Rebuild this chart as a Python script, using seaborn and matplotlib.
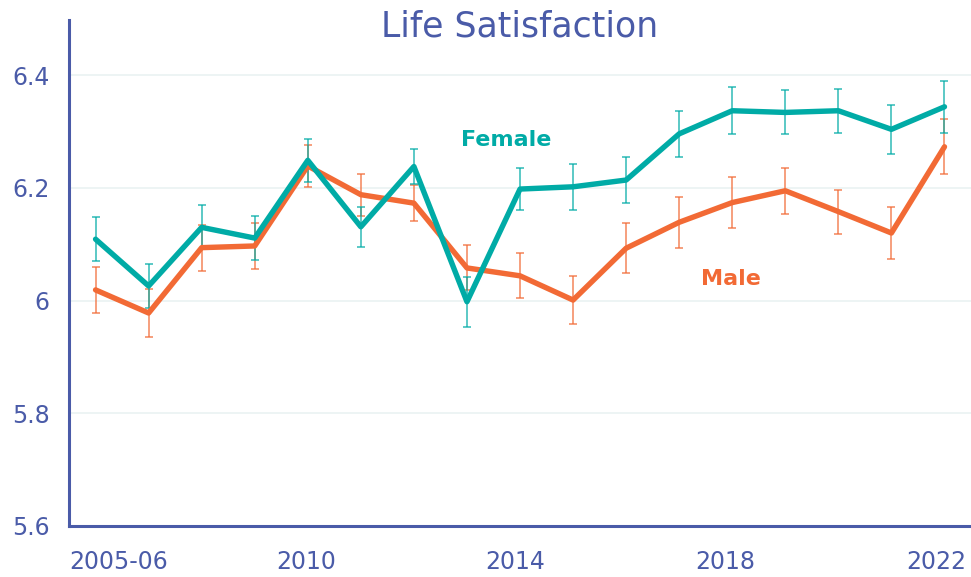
import matplotlib
matplotlib.use('Agg')
import matplotlib.pyplot as plt
import pandas as pd
import seaborn as sns

# survey waves (2005-06 first, then yearly to 2022)
waves = ['2005-06', '2007', '2008', '2009', '2010', '2011', '2012', '2013', '2014',
         '2015', '2016', '2017', '2018', '2019', '2020', '2021', '2022']
female = [6.109, 6.026, 6.130, 6.111, 6.249, 6.131, 6.238, 5.998, 6.198,
          6.202, 6.214, 6.296, 6.337, 6.334, 6.337, 6.304, 6.344]
female_err = [0.039, 0.039, 0.039, 0.039, 0.038, 0.035, 0.031, 0.044, 0.037,
              0.041, 0.041, 0.041, 0.042, 0.039, 0.039, 0.043, 0.046]
male = [6.019, 5.978, 6.094, 6.097, 6.239, 6.188, 6.173, 6.058, 6.044,
        6.001, 6.093, 6.139, 6.174, 6.195, 6.158, 6.120, 6.273]
male_err = [0.041, 0.043, 0.041, 0.041, 0.037, 0.037, 0.032, 0.040, 0.040,
            0.043, 0.044, 0.045, 0.045, 0.041, 0.039, 0.047, 0.049]
tick_labels = ['2005-06', '2010', '2014', '2018', '2022']
yticks = [5.6, 5.8, 6.0, 6.2, 6.4]
ytick_labels = ['5.6', '5.8', '6', '6.2', '6.4']

teal = '#00ABA6'
orange = '#F26A35'
navy = '#4A5BA8'

sns.set_style('white')
plt.rcParams['font.family'] = ['DejaVu Sans']

n = len(waves)
df = pd.DataFrame({
    'pos': list(range(n)) * 2,
    'score': male + female,
    'err': male_err + female_err,
    'sex': ['Male'] * n + ['Female'] * n,
})

fig = plt.figure(figsize=(9.71, 5.77), dpi=100)
ax = fig.add_axes([0.0711, 0.0884, 0.9289, 0.8769])

# error bars first, lines on top
for sex, col in [('Male', orange), ('Female', teal)]:
    d = df[df.sex == sex]
    ax.errorbar(d.pos, d.score, yerr=d.err, fmt='none', ecolor=col,
                elinewidth=1.2, capsize=3, capthick=1.2, alpha=0.75, zorder=2)

sns.lineplot(data=df, x='pos', y='score', hue='sex', hue_order=['Male', 'Female'],
             palette={'Male': orange, 'Female': teal}, linewidth=3.9,
             legend=False, ax=ax, zorder=3)

ax.set_xlim(-0.5, n - 0.5)
ax.set_ylim(5.6, 6.498)
ax.set_yticks(yticks)
ax.set_yticklabels(ytick_labels)
# label anchors as placed in the original chart
ax.set_xticks([-0.5, 3.97, 7.91, 11.86, 15.85])
ax.set_xticklabels(tick_labels)
ax.get_xticklabels()[0].set_horizontalalignment('left')
ax.tick_params(axis='both', length=0, labelsize=17, colors=navy)
ax.tick_params(axis='y', pad=14)
ax.tick_params(axis='x', pad=17)
ax.set_xlabel('')
ax.set_ylabel('')

ax.yaxis.grid(True, color='#EAF2F2', linewidth=1.2, zorder=0)
ax.set_axisbelow(True)
for s in ['top', 'right']:
    ax.spines[s].set_visible(False)
for s in ['left', 'bottom']:
    ax.spines[s].set_color(navy)
    ax.spines[s].set_linewidth(2.2)

ax.text(0.5, 0.988, 'Life Satisfaction', transform=ax.transAxes, ha='center',
        va='center', fontsize=25, color=navy)
ax.text(7.73, 6.285, 'Female', ha='center', va='center', fontsize=16,
        fontweight='bold', color=teal)
ax.text(11.97, 6.038, 'Male', ha='center', va='center', fontsize=16,
        fontweight='bold', color=orange)

fig.savefig('out.png', dpi=100)
